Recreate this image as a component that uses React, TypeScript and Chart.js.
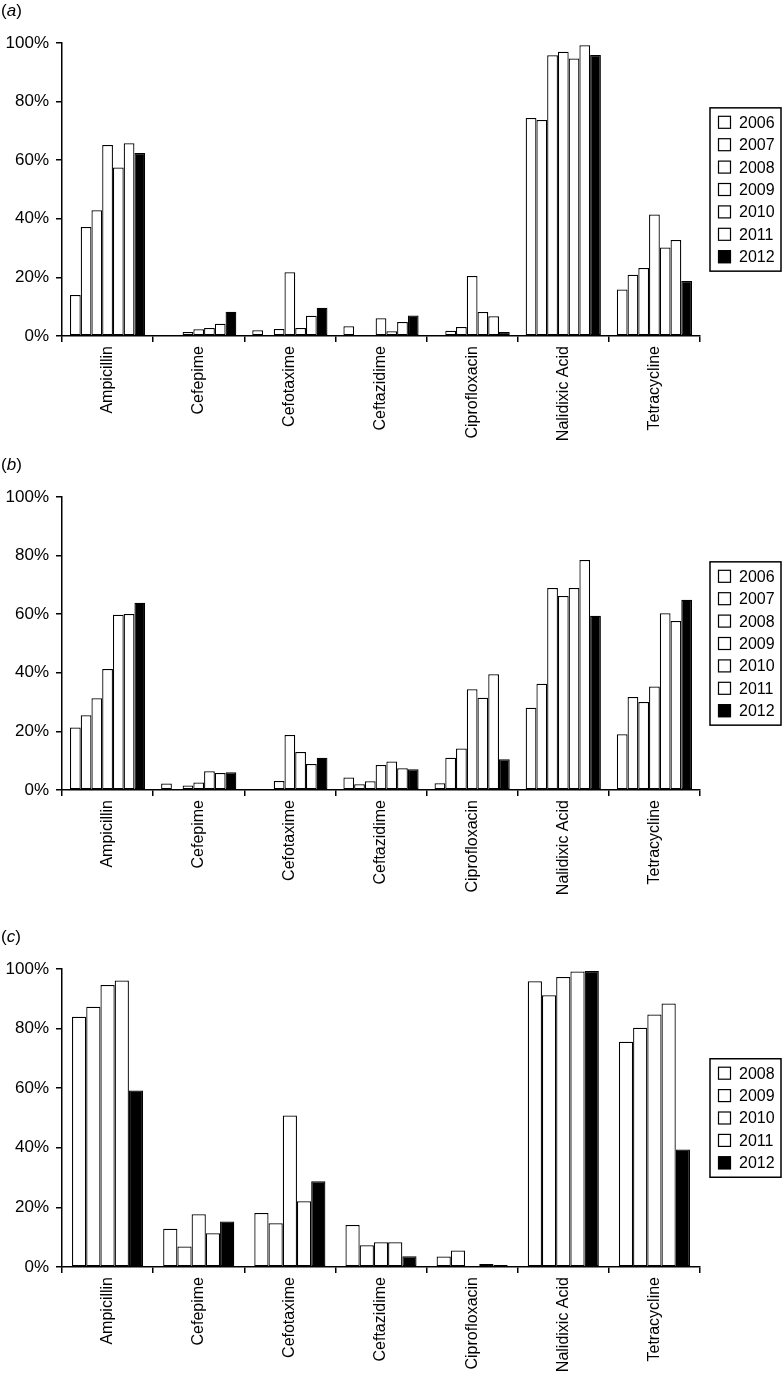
import React, { useEffect, useRef } from "react";
import { Chart, registerables } from "chart.js";

Chart.register(...registerables);

// ---------- data ----------
const categories = [
  "Ampicillin",
  "Cefepime",
  "Cefotaxime",
  "Ceftazidime",
  "Ciprofloxacin",
  "Nalidixic Acid",
  "Tetracycline",
];
const yTickLabels = ["0%", "20%", "40%", "60%", "80%", "100%"];

// Panel (a)
const yearsA = ["2006", "2007", "2008", "2009", "2010", "2011", "2012"];
const a2006 = [14.0, 0, 2.0, 3.3, 0, 74.4, 15.9];
const a2007 = [37.2, 0, 0, 0, 1.8, 73.7, 20.9];
const a2008 = [42.9, 1.4, 2.4, 0, 3.1, 95.8, 23.2];
const a2009 = [65.2, 2.3, 21.8, 6.1, 20.5, 97.0, 41.5];
const a2010 = [57.5, 2.7, 2.7, 1.6, 8.2, 94.7, 30.2];
const a2011 = [65.8, 4.2, 6.9, 4.8, 6.7, 99.2, 32.8];
const a2012 = [62.5, 8.3, 9.6, 7.0, 1.4, 95.9, 18.8];

// Panel (b)
const yearsB = ["2006", "2007", "2008", "2009", "2010", "2011", "2012"];
const b2006 = [21.3, 2.2, 0, 4.3, 2.3, 28.1, 19.0];
const b2007 = [25.5, 0, 0, 2.0, 11.0, 36.3, 31.7];
const b2008 = [31.3, 1.5, 3.1, 3.0, 14.2, 68.9, 30.0];
const b2009 = [41.3, 2.6, 18.8, 8.5, 34.4, 66.2, 35.3];
const b2010 = [59.8, 6.4, 13.0, 9.7, 31.5, 68.9, 60.3];
const b2011 = [60.1, 5.8, 8.9, 7.4, 39.5, 78.5, 57.7];
const b2012 = [63.9, 6.1, 11.0, 7.1, 10.5, 59.5, 64.9];

// Panel (c)
const yearsC = ["2008", "2009", "2010", "2011", "2012"];
const c2008 = [84.0, 12.8, 18.1, 14.1, 3.5, 95.9, 75.6];
const c2009 = [87.3, 6.9, 14.7, 7.3, 5.5, 91.2, 80.3];
const c2010 = [94.6, 17.7, 50.8, 8.3, 0, 97.3, 84.7];
const c2011 = [96.1, 11.3, 22.1, 8.3, 1.0, 99.2, 88.4];
const c2012 = [59.2, 15.3, 28.8, 3.6, 0.7, 99.3, 39.4];

const seriesA = [a2006, a2007, a2008, a2009, a2010, a2011, a2012];
const seriesB = [b2006, b2007, b2008, b2009, b2010, b2011, b2012];
const seriesC = [c2008, c2009, c2010, c2011, c2012];

// ---------- styling ----------
const FONT_FAMILY = '"Liberation Sans", Arial, Helvetica, sans-serif';
const xFont = { family: FONT_FAMILY, size: 16 };
const yFont = { family: FONT_FAMILY, size: 17 };

const boxLegend = {
  id: "boxLegend",
  afterDraw(chart: any) {
    const { ctx, chartArea } = chart;
    const ds = chart.data.datasets;
    const rowH = 22.4;
    const cy = (chartArea.top + chartArea.bottom) / 2;
    const h = ds.length * rowH + 6.5;
    const top = cy - h / 2;
    const left = chartArea.right + 10;
    const w = 71;
    ctx.save();
    ctx.strokeStyle = "#000";
    ctx.lineWidth = 1.5;
    ctx.strokeRect(left, top, w, h);
    ctx.font = `16px ${FONT_FAMILY}`;
    ctx.textBaseline = "middle";
    ctx.textAlign = "left";
    ds.forEach((d: any, i: number) => {
      const y = top + 3.25 + rowH * (i + 0.5);
      ctx.fillStyle = d.backgroundColor;
      ctx.fillRect(left + 8, y - 6.5, 13, 13);
      ctx.lineWidth = 1.2;
      ctx.strokeStyle = "#000";
      ctx.strokeRect(left + 8.5, y - 6, 12, 12);
      ctx.fillStyle = "#000";
      ctx.fillText(d.label, left + 29, y + 1);
    });
    ctx.restore();
  },
};

type PanelProps = {
  letter: string;
  years: string[];
  series: number[][];
  top: number;
  height: number;
  xHeight: number;
  catPct: number;
};

function Panel({ letter, years, series, top, height, xHeight, catPct }: PanelProps) {
  const ref = useRef<HTMLCanvasElement | null>(null);
  useEffect(() => {
    if (!ref.current) return;
    const last = years.length - 1;
    const chart = new Chart(ref.current, {
      type: "bar",
      data: {
        labels: categories,
        datasets: years.map((y, i) => ({
          label: y,
          data: series[i],
          backgroundColor: i === last ? "#000000" : "#ffffff",
          borderColor: "#000000",
          borderWidth: 1.25,
          borderSkipped: false,
          categoryPercentage: catPct,
          barPercentage: 1.0,
        })),
      },
      options: {
        responsive: false,
        animation: false,
        devicePixelRatio: 1,
        layout: { padding: { top: 43, right: 82, left: 0, bottom: 0 } },
        plugins: {
          legend: { display: false },
          tooltip: { enabled: false },
          title: { display: false },
        },
        scales: {
          x: {
            offset: true,
            grid: {
              display: true,
              offset: true,
              drawOnChartArea: false,
              drawTicks: true,
              tickLength: 6,
              color: "#000",
              lineWidth: 1.5,
            },
            border: { display: true, color: "#000", width: 1.5 },
            ticks: {
              color: "#000",
              font: xFont,
              minRotation: 90,
              maxRotation: 90,
              autoSkip: false,
              padding: 4,
            },
            afterFit: (s: any) => {
              s.height = xHeight;
            },
          },
          y: {
            min: 0,
            max: 100,
            ticks: {
              stepSize: 20,
              color: "#000",
              font: yFont,
              padding: 7,
              callback: (v: any) => yTickLabels[Math.round(Number(v) / 20)] ?? "",
            },
            grid: {
              display: true,
              drawOnChartArea: false,
              drawTicks: true,
              tickLength: 6,
              color: "#000",
              lineWidth: 1.5,
            },
            border: { display: true, color: "#000", width: 1.5 },
            afterFit: (s: any) => {
              s.width = 62;
            },
          },
        },
      },
      plugins: [boxLegend],
    });
    return () => chart.destroy();
  }, []);

  return (
    <div style={{ position: "absolute", left: 0, top, width: 782, height }}>
      <div
        style={{
          position: "absolute",
          left: 1,
          top: 2,
          fontFamily: FONT_FAMILY,
          fontSize: 17,
          lineHeight: "18px",
          color: "#000",
        }}
      >
        (<i>{letter}</i>)
      </div>
      <canvas ref={ref} width={782} height={height} style={{ display: "block", width: 782, height }} />
    </div>
  );
}

export default function App() {
  return (
    <div style={{ position: "absolute", left: 0, top: 0, width: 782, height: 1379, background: "#fff" }}>
      <Panel letter="a" years={yearsA} series={seriesA} top={0} height={440} xHeight={104} catPct={0.825} />
      <Panel letter="b" years={yearsB} series={seriesB} top={454} height={440} xHeight={104} catPct={0.825} />
      <Panel letter="c" years={yearsC} series={seriesC} top={926} height={453} xHeight={112} catPct={0.78} />
    </div>
  );
}
